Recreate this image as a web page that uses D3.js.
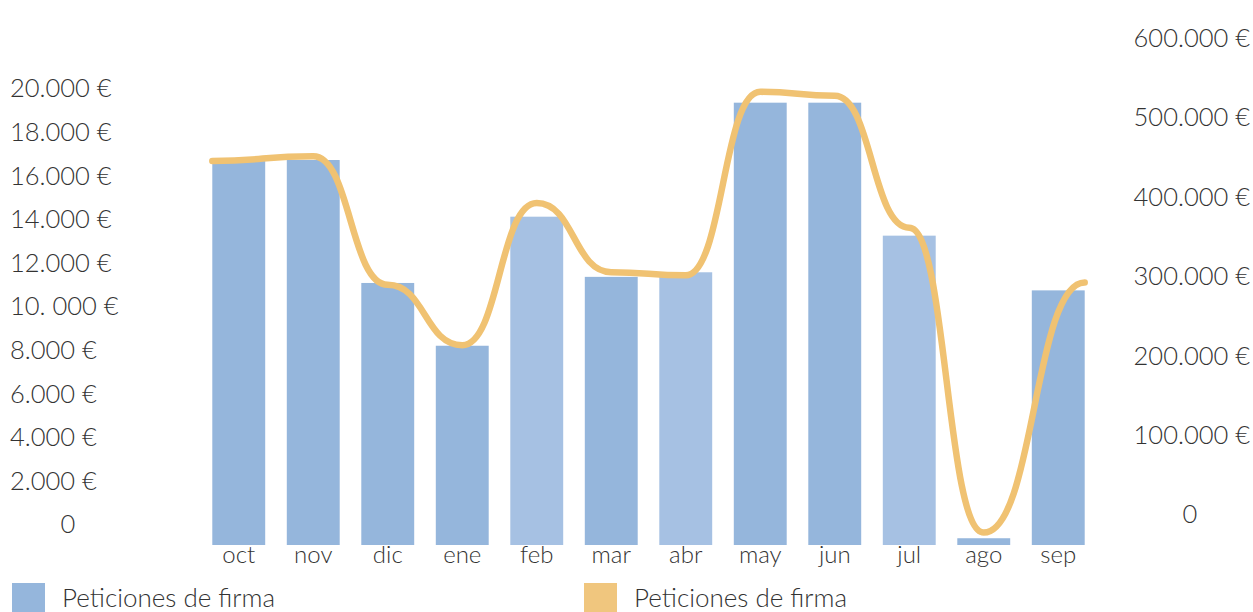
<!DOCTYPE html>
<html>
<head>
<meta charset="utf-8">
<script src="https://cdn.jsdelivr.net/npm/d3@7"></script>
<style>
  body { margin: 0; background: #fff; }
  svg text { font-family: Lato, "Open Sans", sans-serif; font-weight: 300; fill: #333; }
</style>
</head>
<body>
<div id="chart"></div>
<script>
// months and values
const months = ["oct", "nov", "dic", "ene", "feb", "mar", "abr", "may", "jun", "jul", "ago", "sep"];
const barValues = [17660, 17660, 12020, 9140, 15060, 12300, 12510, 20290, 20290, 14190, 310, 11680];
const lineValues = [471000, 477000, 315000, 239000, 418000, 331000, 327000, 558000, 553000, 387000, 3000, 318000];

const leftTicks = [0, 2000, 4000, 6000, 8000, 10000, 12000, 14000, 16000, 18000, 20000];
const leftLabels = ["0", "2.000 €", "4.000 €", "6.000 €", "8.000 €", "10. 000 €", "12.000 €", "14.000 €", "16.000 €", "18.000 €", "20.000 €"];
const rightTicks = [0, 100000, 200000, 300000, 400000, 500000, 600000];
const rightLabels = ["0", "100.000 €", "200.000 €", "300.000 €", "400.000 €", "500.000 €", "600.000 €"];

const legendItems = ["Peticiones de firma", "Peticiones de firma"];
const lighterBars = ["feb", "abr", "jul"];

const width = 1253, height = 612;
const labelLift = 21; // tick labels sit a bit above their value

const svg = d3.select("#chart").append("svg")
  .attr("width", width)
  .attr("height", height);

const x = d3.scaleBand()
  .domain(months)
  .range([201.5, 1095.5])
  .paddingInner(0.29)
  .paddingOuter(0.145);

const yL = d3.scaleLinear().domain([0, 20000]).range([545, 109]);
const yR = d3.scaleLinear().domain([0, 600000]).range([535, 58.5]);

// bars
svg.append("g")
  .selectAll("rect")
  .data(months)
  .join("rect")
  .attr("x", d => x(d))
  .attr("width", x.bandwidth())
  .attr("y", (d, i) => yL(barValues[i]))
  .attr("height", (d, i) => yL(0) - yL(barValues[i]))
  .attr("fill", d => lighterBars.includes(d) ? "#a6c1e3" : "#95b6dc");

// line
const n = months.length;
const lineX = (d, i) => {
  if (i === 0) return x(d);
  if (i === n - 1) return x(d) + x.bandwidth();
  return x(d) + x.bandwidth() / 2;
};
const line = d3.line()
  .x((d, i) => lineX(d, i))
  .y((d, i) => yR(lineValues[i]))
  .curve(d3.curveBumpX);

svg.append("path")
  .datum(months)
  .attr("d", line)
  .attr("fill", "none")
  .attr("stroke", "#f0c272")
  .attr("stroke-width", 6.5)
  .attr("stroke-linecap", "round");

// left axis labels
const leftAxis = svg.append("g")
  .call(d3.axisLeft(yL).tickValues(leftTicks).tickSize(0)
    .tickFormat((d, i) => leftLabels[i]));
leftAxis.select(".domain").remove();
leftAxis.selectAll("text")
  .attr("x", d => d === 0 ? 68 : 10)
  .attr("dy", "0.35em")
  .attr("y", -labelLift)
  .attr("text-anchor", d => d === 0 ? "middle" : "start")
  .style("font-size", "25.5px");

// right axis labels
const rightAxis = svg.append("g")
  .attr("transform", `translate(${width}, 0)`)
  .call(d3.axisRight(yR).tickValues(rightTicks).tickSize(0)
    .tickFormat((d, i) => rightLabels[i]));
rightAxis.select(".domain").remove();
rightAxis.selectAll("text")
  .attr("x", d => d === 0 ? -63 : -3)
  .attr("dy", "0.35em")
  .attr("y", -labelLift)
  .attr("text-anchor", d => d === 0 ? "middle" : "end")
  .style("font-size", "25.5px");

// month labels
const xAxis = svg.append("g")
  .attr("transform", `translate(0, ${yL(0)})`)
  .call(d3.axisBottom(x).tickSize(0).tickPadding(0));
xAxis.select(".domain").remove();
xAxis.selectAll("text")
  .attr("dy", "0.75em")
  .style("font-size", "24px");

// legend
const legend = svg.append("g");
const legendColors = ["#95b6dc", "#f0c67e"];
const legendX = [12, 584];
legendItems.forEach((name, i) => {
  const row = legend.append("g").attr("transform", `translate(${legendX[i]}, 583)`);
  row.append("rect")
    .attr("width", 33)
    .attr("height", 33)
    .attr("fill", legendColors[i]);
  row.append("text")
    .attr("x", 50)
    .attr("y", 24)
    .style("font-size", "26px")
    .text(name);
});
</script>
</body>
</html>
